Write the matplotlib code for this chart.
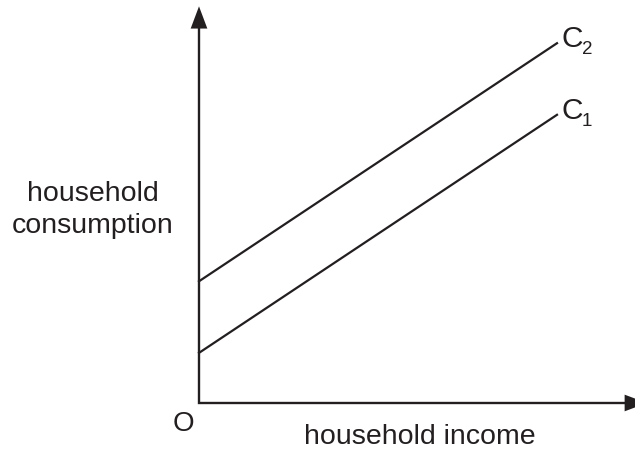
import numpy as np
import matplotlib.pyplot as plt

plt.rcParams['font.family'] = ['Liberation Sans', 'DejaVu Sans']

# income (x) and the two consumption functions
income = [0, 10]
c1 = [1.4, 8.05]
c2 = [3.4, 10.05]
line_names = ["C", "C"]
line_subs = ["1", "2"]

ink = "#231f20"

fig = plt.figure(figsize=(6.35, 4.5), dpi=100)
ax = fig.add_axes([0, 0, 1, 1])
ax.set_xlim(-5.559, 12.179)
ax.set_ylim(-1.313, 11.257)
ax.axis("off")

# axes: one polyline for both, then arrow heads on the ends
ax.plot([0, 0, 12.3], [10.6, 0, 0], color=ink, lw=1.7, solid_joinstyle="miter",
        clip_on=False)
head = dict(arrowstyle="-|>,head_length=0.8,head_width=0.3", mutation_scale=20,
            lw=0, color=ink, shrinkA=0, shrinkB=0)
ax.annotate("", xy=(0, 11.08), xytext=(0, 10.0), arrowprops=head)
ax.annotate("", xy=(12.51, 0), xytext=(11.5, 0), arrowprops=head, annotation_clip=False)

for ys, name, sub in zip([c1, c2], line_names, line_subs):
    ax.plot(income, ys, color=ink, lw=1.6)
    ax.annotate(name, xy=(income[-1], ys[-1]), xytext=(5, -4), textcoords="offset pixels",
                ha="left", va="baseline", fontsize=21.5, color=ink)
    ax.annotate(sub, xy=(income[-1], ys[-1]), xytext=(25, -11), textcoords="offset pixels",
                ha="left", va="baseline", fontsize=13.5, color=ink)

ax.annotate("O", xy=(0, 0), xytext=(-16, -21), textcoords="offset pixels",
            ha="center", va="center", fontsize=20, color=ink)
ax.annotate("household income", xy=(0, 0), xytext=(221, -34), textcoords="offset pixels",
            ha="center", va="center", fontsize=20.5, color=ink)
ax.annotate("household\nconsumption", xy=(0, 0), xytext=(-106, 193), textcoords="offset pixels",
            ha="center", va="center", fontsize=20.5, color=ink, linespacing=1.3)

fig.savefig("out.png", dpi=100)
